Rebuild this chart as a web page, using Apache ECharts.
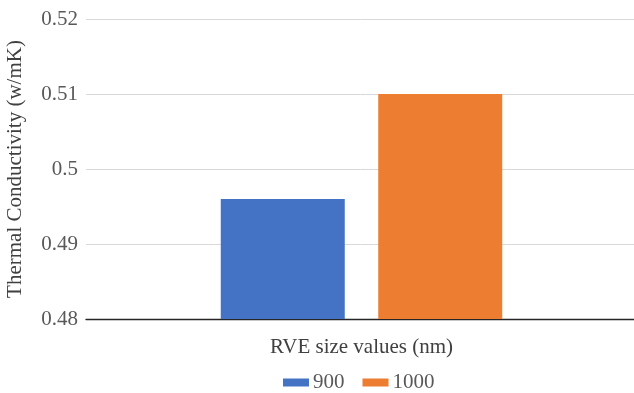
<!DOCTYPE html>
<html>
<head>
<meta charset="utf-8">
<script src="https://cdn.jsdelivr.net/npm/echarts@6/dist/echarts.min.js"></script>
<style>
  html, body { margin: 0; padding: 0; background: #fff; }
  #chart { width: 634px; height: 393px; }
</style>
</head>
<body>
<div id="chart"></div>
<script>
var categories = ['']
var seriesNames = ['900', '1000']
var values900 = [0.496]
var values1000 = [0.510]
var colors = ['#4472c4', '#ed7d31']

var font = 'Liberation Serif'
var myChart = echarts.init(document.getElementById('chart'))

var option = {
  animation: false,
  textStyle: { fontFamily: font },
  grid: {
    left: 86,
    right: -3,
    top: 19,
    bottom: 74,
    containLabel: false,
    outerBoundsMode: 'none'
  },
  legend: {
    bottom: 0,
    left: 283,
    padding: 0,
    itemWidth: 26,
    itemHeight: 8,
    itemGap: 18,
    icon: 'rect',
    textStyle: { fontFamily: font, fontSize: 21, color: '#595959', padding: [0, 0, 0, -1] },
    data: seriesNames
  },
  xAxis: {
    type: 'category',
    data: categories,
    name: 'RVE size values (nm)',
    nameLocation: 'middle',
    nameGap: 18,
    nameTextStyle: { fontFamily: font, fontSize: 21, color: '#404040' },
    axisTick: { show: false },
    axisLabel: { show: false },
    axisLine: { lineStyle: { color: '#262626', width: 1.3 } }
  },
  yAxis: {
    type: 'value',
    min: 0.48,
    max: 0.52,
    interval: 0.01,
    name: 'Thermal Conductivity (w/mK)',
    nameLocation: 'middle',
    nameGap: 60,
    nameTextStyle: { fontFamily: font, fontSize: 21, color: '#404040' },
    axisLine: { show: false },
    axisTick: { show: false },
    axisLabel: {
      fontFamily: font,
      fontSize: 21,
      color: '#595959',
      margin: 8,
      formatter: function (v) { return String(+v.toFixed(2)) }
    },
    splitLine: { lineStyle: { color: '#d9d9d9', width: 1 } }
  },
  series: [
    {
      name: seriesNames[0],
      type: 'bar',
      barWidth: 124,
      barGap: '27%',
      itemStyle: { color: colors[0] },
      data: values900
    },
    {
      name: seriesNames[1],
      type: 'bar',
      barWidth: 124,
      barGap: '27%',
      itemStyle: { color: colors[1] },
      data: values1000
    }
  ]
}

myChart.setOption(option)
</script>
</body>
</html>
